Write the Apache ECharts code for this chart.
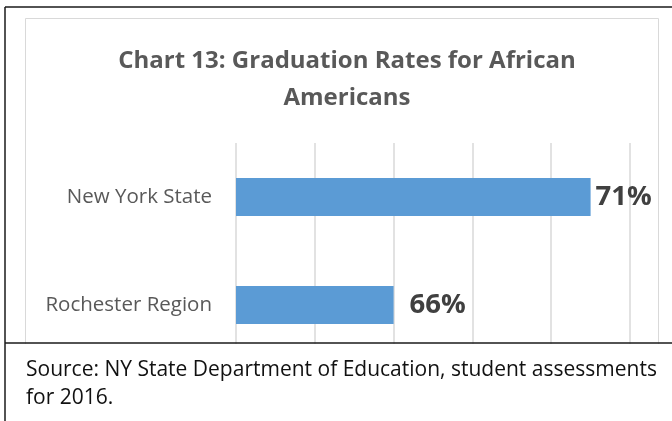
<!DOCTYPE html>
<html lang="en">
  <head>
    <meta charset="UTF-8" />
    <title>Chart 13: Graduation Rates for African Americans</title>
    <script src="https://cdn.jsdelivr.net/npm/echarts@6/dist/echarts.min.js"></script>
    <style>
      * { margin: 0; padding: 0; box-sizing: border-box; }
      body { background: #fff; }
      #chart { width: 672px; height: 421px; }
    </style>
  </head>
  <body>
    <div id="chart"></div>
    <script>
      /* ---------- data ---------- */
      const regions = ["New York State", "Rochester Region"];
      const rates = [71, 66];
      const titleText = "Chart 13: Graduation Rates for African\nAmericans";
      const sourceLines = [
        "Source: NY State Department of Education, student assessments",
        "for 2016.",
      ];

      const font = "'Open Sans', sans-serif";
      const chart = echarts.init(document.getElementById("chart"), null, { renderer: "canvas" });

      const option = {
        backgroundColor: "#fff",
        animation: false,
        title: {
          text: titleText,
          left: 342,
          top: 38,
          textAlign: "center",
          textStyle: {
            fontFamily: font,
            fontSize: 24,
            fontWeight: "bold",
            color: "#595959",
            lineHeight: 37,
          },
        },
        grid: { left: 236, width: 394, top: 143, height: 216 },
        xAxis: {
          type: "value",
          min: 62,
          max: 72,
          interval: 2,
          axisLabel: { show: false },
          axisLine: { show: false },
          axisTick: { show: false },
          splitLine: { lineStyle: { color: "#d9d9d9", width: 1.5 } },
        },
        yAxis: {
          type: "category",
          inverse: true,
          data: regions,
          axisLine: { show: false },
          axisTick: { show: false },
          axisLabel: {
            margin: 24,
            fontFamily: font,
            fontSize: 20.5,
            color: "#595959",
          },
        },
        series: [
          {
            type: "bar",
            barWidth: 38,
            itemStyle: { color: "#5b9bd5" },
            data: rates.map((v, i) => ({
              value: v,
              label: { distance: i === 0 ? 5 : 16 },
            })),
            label: {
              show: true,
              position: "right",
              formatter: "{c}%",
              fontFamily: font,
              fontSize: 27.5,
              fontWeight: "bold",
              color: "#404040",
            },
          },
        ],
        graphic: [
          // inner chart frame
          {
            type: "rect",
            shape: { x: 25.5, y: 18.5, width: 633, height: 360 },
            style: { fill: null, stroke: "#d9d9d9", lineWidth: 1 },
            z: 100,
          },
          // cell below the chart covers the clipped part
          {
            type: "rect",
            shape: { x: 6, y: 344, width: 672, height: 80 },
            style: { fill: "#fff" },
            z: 101,
          },
          // table borders
          {
            type: "line",
            shape: { x1: 5, y1: 7, x2: 672, y2: 7 },
            style: { stroke: "#1a1a1a", lineWidth: 1.5 },
            z: 102,
          },
          {
            type: "line",
            shape: { x1: 5, y1: 7, x2: 5, y2: 421 },
            style: { stroke: "#1a1a1a", lineWidth: 1.5 },
            z: 102,
          },
          {
            type: "line",
            shape: { x1: 5, y1: 343, x2: 672, y2: 343 },
            style: { stroke: "#1a1a1a", lineWidth: 1.5 },
            z: 102,
          },
          ...sourceLines.map((t, i) => ({
            type: "text",
            left: 26,
            top: 360 + i * 28,
            z: 103,
            style: {
              text: t,
              fontFamily: font,
              fontSize: 21,
              fill: "#111",
            },
          })),
        ],
      };

      chart.setOption(option);
    </script>
  </body>
</html>
